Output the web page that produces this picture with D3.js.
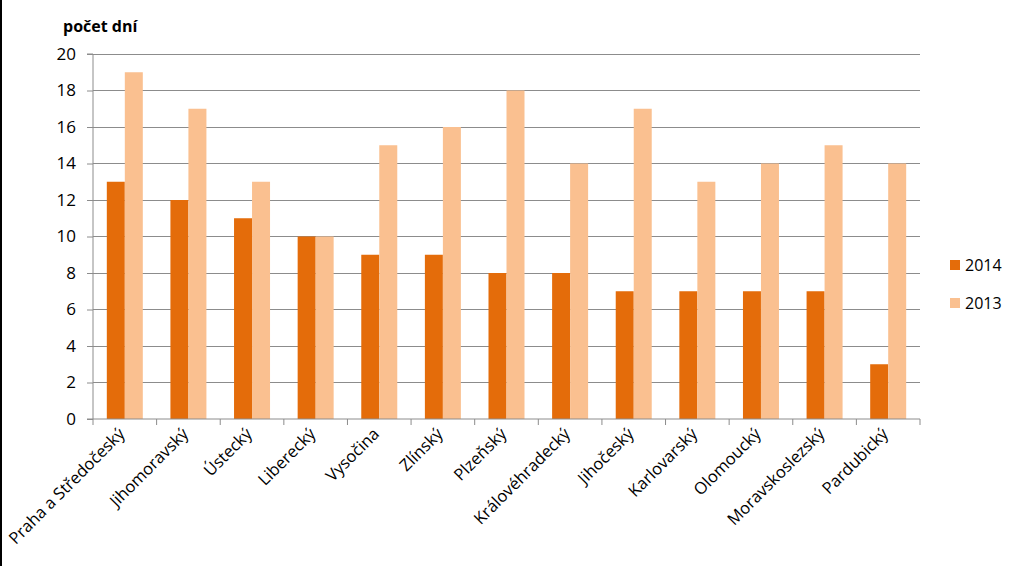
<!DOCTYPE html>
<html><head><meta charset="utf-8">
<script src="https://cdn.jsdelivr.net/npm/d3@7"></script>
<style>
body{margin:0;background:#fff;}
svg{display:block;font-family:"Open Sans",sans-serif;}
</style></head>
<body>
<svg id="c" width="1024" height="566"></svg>
<script>
const categories = ["Praha a Středočeský","Jihomoravský","Ústecký","Liberecký","Vysočina","Zlínský","Plzeňský","Královéhradecký","Jihočeský","Karlovarský","Olomoucký","Moravskoslezský","Pardubický"];
const values2014 = [13,12,11,10,9,9,8,8,7,7,7,7,3];
const values2013 = [19,17,13,10,15,16,18,14,17,13,14,15,14];
const seriesNames = ["2014","2013"];
const yTicks = [0,2,4,6,8,10,12,14,16,18,20];
const colors = ["#E46C0A","#FAC090"];

const svg = d3.select("#c");
svg.append("rect").attr("x",0).attr("y",0).attr("width",2).attr("height",566).attr("fill","#000");

const m = {left:93, right:920, top:54, bottom:419};
const x = d3.scaleBand().domain(categories).range([m.left,m.right]);
const y = d3.scaleLinear().domain([0,20]).range([m.bottom,m.top]);
const inner = d3.scaleBand().domain(seriesNames).range([0,36]);
const barOffset = (x.bandwidth()-36)/2;

// gridlines
svg.append("g").selectAll("line").data(yTicks.filter(d=>d>0)).join("line")
  .attr("x1",m.left).attr("x2",m.right)
  .attr("y1",d=>y(d)).attr("y2",d=>y(d))
  .attr("stroke","#8c8c8c").attr("stroke-width",1).attr("shape-rendering","crispEdges");

// bars
const data = categories.map((c,i)=>({c, vals:[values2014[i],values2013[i]]}));
const g = svg.append("g");
data.forEach(d=>{
  d.vals.forEach((v,j)=>{
    g.append("rect")
      .attr("x",x(d.c)+barOffset+inner(seriesNames[j]))
      .attr("width",inner.bandwidth())
      .attr("y",y(v)).attr("height",y(0)-y(v))
      .attr("fill",colors[j]);
  });
});

// y axis
const yAxis = d3.axisLeft(y).tickValues(yTicks).tickSize(6).tickPadding(11).tickFormat(d3.format("d"));
const ya = svg.append("g").attr("transform",`translate(${m.left},0)`).call(yAxis);
ya.attr("font-size",null).attr("font-family",null);
ya.select(".domain").attr("stroke","#8c8c8c").attr("d",`M-6,${m.top}H0V${m.bottom}H-6`);
ya.selectAll(".tick line").attr("stroke","#8c8c8c");
ya.selectAll(".tick text").style("font-size","17px").attr("fill","#000");

// x axis
const xa = svg.append("g").attr("transform",`translate(0,${m.bottom})`);
xa.append("line").attr("x1",m.left).attr("x2",m.right).attr("y1",0).attr("y2",0).attr("stroke","#8c8c8c");
const bounds = categories.map(c=>x(c)).concat([m.right]);
xa.selectAll("line.tk").data(bounds).join("line").attr("class","tk")
  .attr("x1",d=>d).attr("x2",d=>d).attr("y1",0).attr("y2",6).attr("stroke","#8c8c8c");
xa.selectAll("text").data(categories).join("text")
  .attr("transform",d=>`translate(${x(d)+x.bandwidth()/2+1},${16}) rotate(-45)`)
  .attr("text-anchor","end").style("font-size","16.5px").attr("fill","#000")
  .text(d=>d);

// title
svg.append("text").attr("x",63).attr("y",32).attr("font-weight","bold").style("font-size","16px").text("počet dní");

// legend
const lg = svg.append("g");
seriesNames.forEach((s,i)=>{
  lg.append("rect").attr("x",950).attr("y",260+i*38).attr("width",10).attr("height",10).attr("fill",colors[i]);
  lg.append("text").attr("x",965).attr("y",271+i*38).style("font-size","16px").text(s);
});
</script>
</body></html>
